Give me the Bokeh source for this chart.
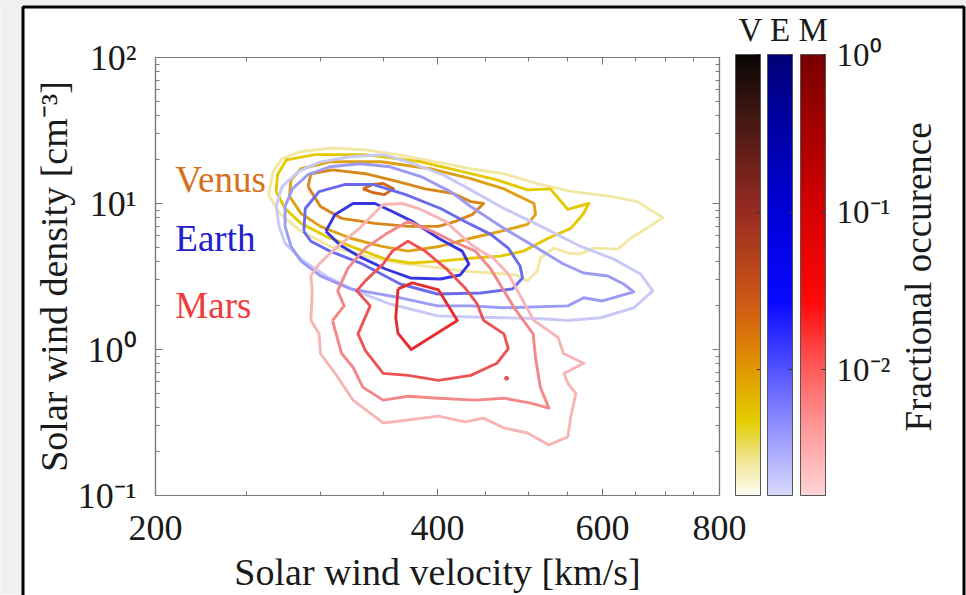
import numpy as np
from bokeh.plotting import figure
from bokeh.models import (LogAxis, FixedTicker, ColorBar, LogColorMapper, LinearColorMapper,
                          Label, Range1d)
from bokeh.embed import file_html
from bokeh.resources import INLINE

# ---------------- data ----------------
x_ticks = [200, 400, 600, 800]
x_tick_labels = ["200", "400", "600", "800"]
x_minor = [250, 300, 350, 450, 500, 550, 650, 700, 750]
y_ticks = [0.1, 1, 10, 100]
y_tick_labels = ["10⁻¹", "10⁰", "10¹", "10²"]
y_minor = [0.2, 0.3, 0.4, 0.5, 0.6, 0.7, 0.8, 0.9, 2, 3, 4, 5, 6, 7, 8, 9,
           20, 30, 40, 50, 60, 70, 80, 90]
cb_ticks = [0.01, 0.1, 1]
cb_tick_labels = ["10⁻²", "10⁻¹", "10⁰"]
cb_low, cb_high = 1.6e-3, 1.0

# Venus contours (outer -> inner): velocity [km/s], density [cm^-3]
venus_1_v = [264, 267, 273, 285, 309, 335, 363, 398, 434, 471, 511, 555, 612, 654, 696, 664, 643, 623,
             587, 568, 552, 532, 515, 511, 499, 485, 456, 426, 403, 365, 335, 307, 286, 272, 264]
venus_1_n = [11.5, 16.5, 20.3, 22.6, 24.0, 23.3, 21.6, 19.3, 17.3, 16.0, 13.7, 12.1, 11.2, 10.3, 8.0,
             6.55, 5.78, 4.87, 4.95, 4.50, 4.57, 4.95, 4.22, 3.45, 2.95, 3.24, 3.34, 3.45, 3.61, 3.91,
             4.36, 5.10, 6.45, 8.42, 11.5]
venus_2_v = [269, 270, 276, 296, 335, 384, 434, 463, 499, 528, 551, 580, 573, 555, 525, 494, 467, 434,
             403, 374, 352, 327, 304, 286, 275, 269]
venus_2_n = [12.1, 15.8, 19.9, 21.6, 21.6, 19.3, 16.0, 14.5, 12.4, 12.6, 9.1, 10.0, 8.55, 6.75, 5.78,
             4.72, 4.36, 4.22, 4.03, 3.91, 4.16, 4.95, 5.96, 7.31, 9.24, 12.1]
venus_3_v = [278, 279, 286, 307, 348, 393, 434, 471, 507, 509, 499, 467, 434, 403, 372, 348, 323, 300,
             286, 278]
venus_3_n = [11.2, 14.5, 17.3, 19.3, 19.3, 17.3, 14.8, 12.6, 10.0, 8.42, 7.19, 6.45, 5.78, 5.10, 4.72,
             5.10, 5.78, 6.97, 8.55, 11.2]
venus_4_v = [291, 293, 309, 335, 363, 388, 416, 434, 448, 436, 418, 401, 372, 343, 316, 300, 291]
venus_4_n = [13.05, 16.0, 17.0, 16.0, 14.1, 12.6, 11.7, 10.3, 10.0, 8.42, 7.54, 6.97, 6.97, 7.31, 7.91,
             9.54, 13.05]
venus_5_v = [333, 341, 350, 359, 351, 341, 333]
venus_5_n = [12.6, 13.5, 13.7, 12.6, 11.5, 11.9, 12.6]

# Earth contours
earth_1_v = [271, 269, 273, 284, 300, 323, 350, 372, 405, 434, 471, 511, 568, 617, 659, 679, 648, 597,
             551, 511, 471, 434, 400, 356, 327, 304, 286, 275, 271]
earth_1_n = [6.97, 9.54, 13.05, 16.5, 19.3, 20.9, 21.6, 19.3, 15.8, 12.4, 9.24, 7.19, 5.10, 4.16, 3.29,
             2.52, 1.93, 1.65, 1.58, 1.63, 1.65, 1.67, 1.70, 2.05, 2.52, 3.19, 4.16, 5.34, 6.97]
earth_2_v = [275, 275, 280, 291, 307, 331, 356, 384, 413, 434, 471, 511, 545, 573, 608, 632, 648, 600,
             573, 551, 471, 434, 400, 365, 323, 300, 286, 279, 275]
earth_2_n = [6.97, 9.54, 12.6, 15.8, 17.85, 18.7, 17.85, 15.3, 12.06, 9.54, 6.75, 4.95, 3.85, 3.34,
             3.19, 2.81, 2.48, 2.15, 2.26, 1.99, 1.93, 1.99, 1.99, 2.26, 2.60, 3.19, 4.03, 5.10, 6.97]
earth_3_v = [288, 289, 299, 319, 341, 370, 403, 434, 456, 476, 490, 493, 481, 445, 400, 365, 331, 307,
             293, 288]
earth_3_n = [6.45, 9.24, 12.06, 13.5, 13.5, 11.5, 9.24, 7.19, 6.15, 4.95, 3.73, 3.09, 2.60, 2.44, 2.40,
             2.81, 3.91, 4.72, 5.51, 6.45]
earth_4_v = [304, 311, 325, 343, 358, 376, 401, 425, 432, 423, 403, 374, 352, 331, 315, 304]
earth_4_n = [6.45, 8.42, 10.0, 10.0, 8.82, 7.54, 5.78, 4.72, 3.85, 3.24, 3.04, 3.09, 3.56, 4.29, 5.18,
             6.45]

# Mars contours
mars_1_v = [293, 294, 293, 299, 309, 330, 350, 367, 382, 408, 434, 445, 459, 476, 487, 507, 538, 545,
            573, 546, 551, 562, 555, 551, 526, 499, 471, 448, 428, 401, 372, 350, 325, 311, 300, 299, 293]
mars_1_n = [1.58, 2.52, 3.19, 3.85, 4.72, 6.75, 9.84, 10.0, 9.24, 7.54, 5.26, 4.72, 4.22, 3.29, 2.52,
            1.58, 1.21, 0.939, 0.805, 0.686, 0.587, 0.501, 0.345, 0.252, 0.222, 0.268, 0.29, 0.339,
            0.319, 0.35, 0.329, 0.314, 0.45, 0.686, 0.939, 1.28, 1.58]
mars_2_v = [309, 318, 313, 321, 335, 352, 372, 395, 415, 439, 456, 471, 483, 506, 509, 515, 526, 503,
            471, 439, 401, 372, 350, 333, 325, 316, 309]
mars_2_n = [1.58, 1.99, 2.52, 3.61, 4.95, 6.15, 7.54, 6.45, 5.51, 4.72, 3.56, 2.52, 1.93, 1.28, 0.882,
            0.551, 0.397, 0.429, 0.464, 0.45, 0.464, 0.478, 0.45, 0.551, 0.756, 0.939, 1.58]
mars_3_v = [335, 350, 358, 372, 388, 408, 428, 441, 448, 471, 476, 463, 434, 401, 372, 350, 335, 329,
            339, 328, 335]
mars_3_n = [2.95, 3.85, 4.72, 5.51, 4.72, 3.61, 2.64, 2.05, 1.58, 1.28, 1.015, 0.805, 0.665, 0.615,
            0.665, 0.686, 0.984, 1.28, 1.99, 2.52, 2.95]
mars_4_v = [363, 376, 401, 420, 375, 363, 361, 363]
mars_4_n = [2.60, 2.86, 2.56, 1.58, 1.00, 1.29, 1.65, 2.60]
mars_dot_v = [474]
mars_dot_n = [0.635]

planet_names = ["Venus", "Earth", "Mars"]
planet_name_v = [210, 210, 210]
planet_name_n = [14.6, 5.78, 1.99]
colorbar_titles = "V E M"
colorbar_label = "Fractional occurence"

# ---------------- styles ----------------
FONT = "Liberation Serif"
AXC = "#7a7a7a"
TXT = "#1a1a1a"
PAGE_BG = "#f0f0f0"
venus_colors = ["#f2e7a3", "#e5c900", "#dea015", "#d9861a", "#d2691d"]
earth_colors = ["#c9c9f7", "#9b9bf3", "#6a6aee", "#3535e2"]
mars_colors = ["#f7b5b5", "#f28888", "#ec5454", "#e62c2c"]
name_colors = ["#d6701c", "#2020cc", "#ef3b3b"]


def ramp(stops, n=256):
    fr = np.array([s[0] for s in stops])
    cols = np.array([[int(c[i:i + 2], 16) for i in (1, 3, 5)] for _, c in stops], dtype=float)
    t = np.linspace(0, 1, n)
    rgb = np.stack([np.interp(t, fr, cols[:, k]) for k in range(3)], axis=1)
    return ["#%02x%02x%02x" % tuple(int(round(c)) for c in row) for row in rgb]


pal_v = ramp([(0, "#fffff5"), (0.08, "#efe490"), (0.17, "#e3cd00"), (0.28, "#e09a00"),
              (0.35, "#dd7a08"), (0.45, "#cc5518"), (0.65, "#962a22"), (0.88, "#3a1510"),
              (1.0, "#0a0505")])
pal_e = ramp([(0, "#d8d8fc"), (0.17, "#8a8aff"), (0.29, "#5050ff"), (0.44, "#0808ff"),
              (0.64, "#0000d8"), (1.0, "#000078")])
pal_m = ramp([(0, "#ffd4d4"), (0.17, "#ff9090"), (0.29, "#ff5a5a"), (0.44, "#ff0808"),
              (0.64, "#d80000"), (1.0, "#780000")])

# ---------------- figure ----------------
p = figure(width=966, height=595, x_axis_type="log", y_axis_type="log",
           x_range=Range1d(200, 800), y_range=Range1d(0.1, 100),
           output_backend="svg", toolbar_location=None,
           min_border_left=155, min_border_right=247, min_border_top=55, min_border_bottom=99)
p.border_fill_color = "white"
p.background_fill_color = "white"
p.outline_line_color = AXC
p.outline_line_width = 1.2
p.grid.visible = False

# "V E M" heading above the three colour bars
p.title.text = colorbar_titles
p.title.align = "left"
p.title.offset = 583
p.title.text_font = FONT
p.title.text_font_size = "33px"
p.title.text_font_style = "normal"
p.title.text_color = TXT
p.title.standoff = 19


def blank_bar(color="#ffffff", **kw):
    """A plain colour bar, used for page decoration / as a carrier for a rotated caption."""
    base = dict(color_mapper=LinearColorMapper(palette=[color], low=0, high=1),
                orientation="vertical", padding=0, margin=0,
                ticker=FixedTicker(ticks=[]), major_tick_line_color=None,
                minor_tick_line_color=None, major_label_text_color=None,
                major_label_text_font_size="1px", bar_line_color=None,
                border_line_color=None, background_fill_alpha=0)
    base.update(kw)
    return ColorBar(**base)


# page decoration: grey margin strips and the black frame round the white page
p.add_layout(blank_bar(PAGE_BG, location=(-155, -99), width=21, height=595))
p.add_layout(blank_bar(PAGE_BG, location=(-155, 490), width=966, height=6))
p.add_layout(blank_bar(PAGE_BG, location=(810, -99), width=2, height=595))
p.add_layout(blank_bar(location=(-132.5, -131.5), width=941, height=620, scale_alpha=0,
                       border_line_color="black", border_line_width=3))

xt = FixedTicker(ticks=x_ticks, minor_ticks=x_minor)
yt = FixedTicker(ticks=y_ticks, minor_ticks=y_minor)


def style_axis(ax, labels):
    ax.axis_line_color = AXC
    ax.axis_line_width = 1.2
    ax.major_tick_line_color = AXC
    ax.minor_tick_line_color = AXC
    ax.major_tick_in = 7
    ax.major_tick_out = 0
    ax.minor_tick_in = 4
    ax.minor_tick_out = 0
    ax.major_label_text_font = FONT
    ax.axis_label_text_font = FONT
    ax.axis_label_text_font_style = "normal"
    ax.axis_label_text_color = TXT
    ax.axis_label_text_font_size = "38px"
    if labels is None:
        ax.major_label_text_color = None
        ax.major_label_text_font_size = "1px"
        ax.major_label_standoff = 0
    else:
        ax.major_label_text_font_size = "36px"
        ax.major_label_text_color = TXT
        ax.major_label_overrides = labels


xa = p.below[0]
xa.ticker = xt
style_axis(xa, {float(t): s for t, s in zip(x_ticks, x_tick_labels)})
xa.major_label_standoff = 20
xa.axis_label = "Solar wind velocity [km/s]"
xa.axis_label_standoff = 8

ya = p.left[0]
ya.ticker = yt
style_axis(ya, {float(t): s for t, s in zip(y_ticks, y_tick_labels)})
ya.major_label_standoff = 19
ya.axis_label = "Solar wind density [cm⁻³]"
ya.axis_label_standoff = 0

top_ax = LogAxis(ticker=xt)
style_axis(top_ax, None)
p.add_layout(top_ax, "above")
right_ax = LogAxis(ticker=yt)
style_axis(right_ax, None)
p.add_layout(right_ax, "right")

# contours
venus = [(venus_1_v, venus_1_n), (venus_2_v, venus_2_n), (venus_3_v, venus_3_n),
         (venus_4_v, venus_4_n), (venus_5_v, venus_5_n)]
earth = [(earth_1_v, earth_1_n), (earth_2_v, earth_2_n), (earth_3_v, earth_3_n),
         (earth_4_v, earth_4_n)]
mars = [(mars_1_v, mars_1_n), (mars_2_v, mars_2_n), (mars_3_v, mars_3_n), (mars_4_v, mars_4_n)]

for group, cols in ((venus, venus_colors), (earth, earth_colors), (mars, mars_colors)):
    for (vs, ns), c in zip(group, cols):
        p.line(vs, ns, line_color=c, line_width=2.9, line_join="round")
p.scatter(mars_dot_v, mars_dot_n, size=4, color=mars_colors[2])

for name, v, n, c in zip(planet_names, planet_name_v, planet_name_n, name_colors):
    p.add_layout(Label(x=v, y=n, text=name, text_color=c, text_font=FONT,
                       text_font_size="37px", text_baseline="middle", text_align="left"))

# colour bars
cb_left = [580, 612, 645]
for i, pal in enumerate((pal_v, pal_e, pal_m)):
    mapper = LogColorMapper(palette=pal, low=cb_low, high=cb_high)
    cb = ColorBar(color_mapper=mapper, orientation="vertical", location=(cb_left[i], 0),
                  width=25, height=441, padding=0, margin=0,
                  ticker=FixedTicker(ticks=cb_ticks),
                  major_tick_in=4, major_tick_out=0, major_tick_line_color="#333333",
                  minor_tick_line_color=None,
                  bar_line_color="#555555", bar_line_width=1,
                  border_line_color=None, background_fill_alpha=0,
                  major_label_text_font=FONT, major_label_text_font_size="33px",
                  label_standoff=11)
    if i == 2:
        cb.major_label_text_color = TXT
        cb.major_label_overrides = {float(t): s for t, s in zip(cb_ticks, cb_tick_labels)}
    else:
        cb.major_label_text_color = None
    p.add_layout(cb)

# rotated caption of the colour bars
caption = blank_bar(location=(740, 64), width=1, height=312, scale_alpha=0,
                    title=colorbar_label, title_text_font=FONT, title_text_font_size="37px",
                    title_text_font_style="normal", title_text_color=TXT, title_standoff=0)
p.add_layout(caption)

open("out.html", "w").write(file_html(p, INLINE))
